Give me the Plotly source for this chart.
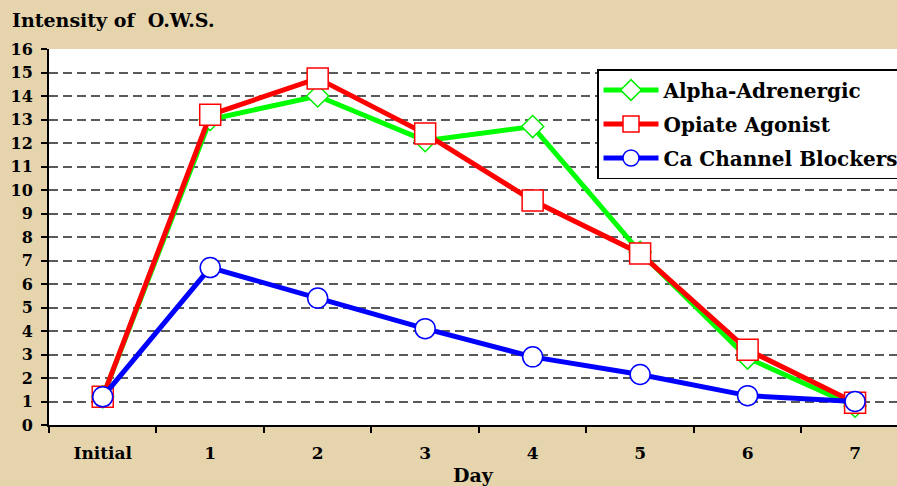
import plotly.graph_objects as go

days = ["Initial", "1", "2", "3", "4", "5", "6", "7"]
alpha = [1.2, 13.0, 14.0, 12.1, 12.7, 7.35, 2.85, 0.8]
opiate = [1.2, 13.2, 14.75, 12.4, 9.55, 7.3, 3.2, 0.95]
ca_block = [1.2, 6.7, 5.4, 4.1, 2.9, 2.15, 1.25, 1.0]
y_ticks = list(range(0, 17))

FONT = "DejaVu Serif"

fig = go.Figure()
fig.add_trace(go.Scatter(
    x=days, y=alpha, name="Alpha-Adrenergic", mode="lines+markers", legendgroup="a",
    line=dict(color="#00FF00", width=5),
    marker=dict(symbol="diamond", size=17, color="white", line=dict(color="#00EE00", width=1.5)),
))
fig.add_trace(go.Scatter(
    x=days, y=opiate, name="Opiate Agonist", mode="lines+markers", legendgroup="b",
    line=dict(color="#FF0000", width=5),
    marker=dict(symbol="square", size=21, color="white", line=dict(color="#FF0000", width=1.5)),
))
fig.add_trace(go.Scatter(
    x=days, y=ca_block, name="Ca Channel Blockers", mode="lines+markers", legendgroup="c",
    line=dict(color="#0000FF", width=5),
    marker=dict(symbol="circle", size=20, color="white", line=dict(color="#0000FF", width=1.5)),
))

fig.update_layout(
    width=897, height=486,
    margin=dict(l=49, r=0, t=49, b=61, autoexpand=False),
    paper_bgcolor="#E6D4AD",
    plot_bgcolor="white",
    font=dict(family=FONT, size=17, color="black"),
    showlegend=True,
    legend=dict(
        x=(597 - 49) / 848, y=(425 - 69) / 376, xanchor="left", yanchor="top",
        bgcolor="white", bordercolor="black", borderwidth=1.5,
        font=dict(family=FONT, size=20, color="black", weight="bold"),
        itemwidth=55, traceorder="grouped", tracegroupgap=5,
    ),
    xaxis=dict(
        type="category", range=[-0.5, 7.39],
        tickson="boundaries", ticks="outside", ticklen=6, tickwidth=1.5, tickcolor="black",
        showline=True, linecolor="black", linewidth=2, showgrid=False, zeroline=False,
        tickfont=dict(family=FONT, size=17, weight="bold"),
        ticklabelstandoff=12,
        title=dict(text="<b>Day</b>", font=dict(family=FONT, size=19), standoff=10),
    ),
    yaxis=dict(
        range=[0, 16], tickvals=y_ticks, ticks="outside", ticklen=6, tickwidth=1.5, tickcolor="black",
        showline=True, linecolor="black", linewidth=2,
        showgrid=True, gridcolor="#5a5a5a", gridwidth=1.5, griddash="9px,5px",
        zeroline=False,
        tickfont=dict(family=FONT, size=16, weight="bold"),
        ticklabelstandoff=5,
    ),
    annotations=[dict(
        text="<b>Intensity of\u00a0\u00a0O.W.S.</b>", xref="paper", yref="paper",
        x=0, y=1, xshift=-39, yshift=29, xanchor="left", yanchor="middle",
        font=dict(family=FONT, size=19), showarrow=False,
    )],
)

fig.write_html("out.html", config={"displayModeBar": False},
               post_script="document.body.style.margin='0';")
